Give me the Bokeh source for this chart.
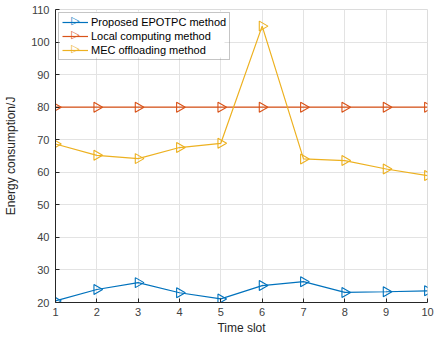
import math
from bokeh.plotting import figure
from bokeh.embed import file_html
from bokeh.resources import INLINE
from bokeh.models import FixedTicker, Legend, LegendItem, Label, BoxAnnotation

time_slots = [1, 2, 3, 4, 5, 6, 7, 8, 9, 10]
proposed = [20.5, 24.0, 26.1, 23.0, 21.1, 25.2, 26.4, 23.1, 23.3, 23.6]
local = [80, 80, 80, 80, 80, 80, 80, 80, 80, 80]
mec = [68.7, 65.2, 64.2, 67.6, 68.9, 104.9, 64.1, 63.6, 61.0, 59.0]

names = ["Proposed EPOTPC method", "Local computing method", "MEC offloading method"]
colors = ["#0072BD", "#D95319", "#EDB120"]
x_ticks = [1, 2, 3, 4, 5, 6, 7, 8, 9, 10]
y_ticks = [20, 30, 40, 50, 60, 70, 80, 90, 100, 110]

W, H = 437, 337
BL, BR, BT, BB = 55, 10, 9, 34
p = figure(width=W, height=H, output_backend="svg", toolbar_location=None,
           x_range=(1, 10), y_range=(20, 110),
           min_border_left=BL, min_border_right=BR, min_border_top=BT, min_border_bottom=BB)
p.outline_line_color = "#dcdcdc"
p.background_fill_color = "white"

p.xgrid.grid_line_color = "#e3e3e3"
p.ygrid.grid_line_color = "#e3e3e3"
p.xgrid.ticker = FixedTicker(ticks=x_ticks)
p.ygrid.ticker = FixedTicker(ticks=y_ticks)

LM, LP, GW, GH, SP = 3, 3, 26, 12, 2
frame_h = H - BT - BB
LEG_W = 166
LEG_H = 2 * LP + 3 * GH + 2 * SP
# white backing behind the (transparent) legend so grid lines do not show through
p.add_layout(BoxAnnotation(left=LM, right=LM + LEG_W, top=frame_h - LM, bottom=frame_h - LM - LEG_H,
                           left_units="screen", right_units="screen",
                           top_units="screen", bottom_units="screen",
                           fill_color="white", fill_alpha=1.0, line_color=None,
                           level="underlay"))

items = []
for ys, name, c in zip([proposed, local, mec], names, colors):
    l = p.line(time_slots, ys, line_color=c, line_width=1.2)
    p.scatter(time_slots, ys, marker="triangle", angle=-math.pi / 2, size=10,
              line_color=c, fill_color=None, line_width=1.1)
    items.append(LegendItem(label=name, renderers=[l]))

legend = Legend(items=items, location="top_left")
legend.label_text_font = "Liberation Sans"
legend.label_text_font_size = "11px"
legend.label_text_color = "#000000"
legend.border_line_color = "#8c8c8c"
legend.border_line_width = 1
legend.background_fill_alpha = 0
legend.glyph_width = GW
legend.glyph_height = GH
legend.label_height = GH
legend.spacing = SP
legend.padding = LP
legend.margin = LM
legend.label_standoff = 3
p.add_layout(legend)

# right-pointing triangle symbols over the legend line samples
for i, c in enumerate(colors):
    sy = frame_h - (LM + LP + i * (GH + SP) + GH / 2)
    p.add_layout(Label(x=LM + LP + GW / 2 + 1, y=sy, x_units="screen", y_units="screen",
                       text="\u25B7", text_color=c, text_font="DejaVu Sans",
                       text_font_size="11px", text_align="center", text_baseline="middle",
                       level="overlay"))

for ax in (p.xaxis[0], p.yaxis[0]):
    ax.axis_line_color = "#262626"
    ax.major_tick_line_color = "#262626"
    ax.major_tick_in = 4
    ax.major_tick_out = 0
    ax.minor_tick_line_color = None
    ax.major_label_text_font = "Liberation Sans"
    ax.major_label_text_font_size = "11px"
    ax.major_label_text_color = "#404040"
    ax.axis_label_text_font = "Liberation Sans"
    ax.axis_label_text_font_size = "12px"
    ax.axis_label_text_font_style = "normal"
    ax.axis_label_text_color = "#262626"

p.xaxis.ticker = FixedTicker(ticks=x_ticks)
p.yaxis.ticker = FixedTicker(ticks=y_ticks)
p.xaxis.axis_label = "Time slot"
p.yaxis.axis_label = "Energy consumption/J"
p.xaxis.major_label_standoff = 5
p.yaxis.major_label_standoff = 6
p.xaxis.axis_label_standoff = 2
p.yaxis.axis_label_standoff = 10

open("out.html", "w").write(file_html(p, INLINE))
